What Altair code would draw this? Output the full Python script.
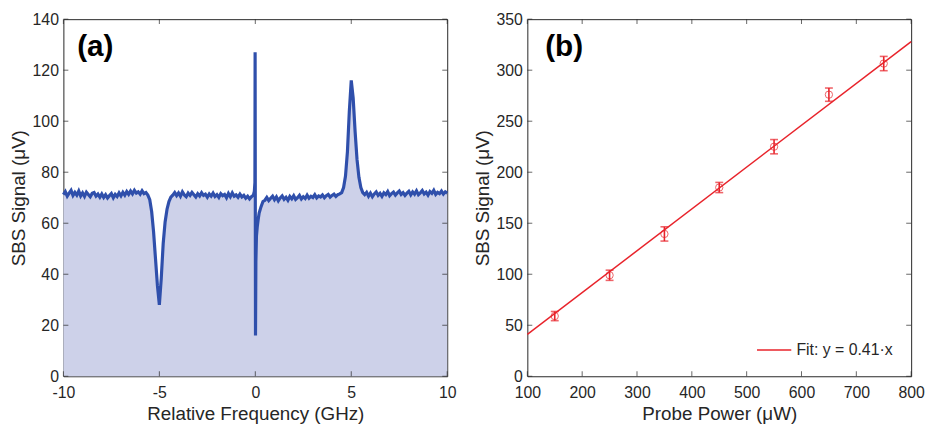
import altair as alt
import pandas as pd

# ---------------- Panel (a): SBS spectrum ----------------
def grid(start, n):
    return [round(start + 0.1 * i, 2) for i in range(n)]

freq_a = grid(-10.0, 44)
sig_a = [71.2, 72.4, 70.6, 71.8, 72.9, 70.9, 72.1, 71.0, 72.6, 70.7,
         71.9, 70.5, 72.2, 71.3, 70.4, 71.7, 72.0, 70.6, 71.4, 70.2,
         71.5, 70.1, 71.2, 69.9, 70.8, 71.6, 70.0, 71.3, 70.5, 71.9,
         70.7, 72.1, 71.0, 72.4, 71.3, 72.6, 71.5, 72.9, 71.8, 72.3,
         71.4, 72.7, 71.6, 72.0]
freq_dip = grid(-5.6, 14)
sig_dip = [71.0, 69.2, 64.5, 56.5, 46.0, 35.5, 28.0, 38.5, 52.0, 60.5,
           65.5, 68.5, 70.2, 71.0]
freq_c = grid(-4.2, 42)
sig_c = [72.0, 70.8, 71.9, 70.6, 72.3, 71.1, 70.4, 71.8, 70.9, 72.1,
         71.2, 70.3, 71.6, 70.7, 72.0, 70.9, 71.4, 70.2, 71.5, 70.6,
         71.8, 70.5, 71.2, 70.1, 71.6, 70.8, 71.3, 70.0, 71.7, 70.4,
         71.9, 70.6, 71.1, 70.2, 71.4, 70.3, 70.9, 69.8, 70.6, 69.5,
         70.4, 71.0]
freq_spike = [-0.05, -0.02, -0.01, 0.01, 0.03, 0.06, 0.1, 0.15, 0.2, 0.3, 0.4]
sig_spike = [72.5, 76.0, 127.0, 16.0, 45.0, 55.0, 58.5, 61.5, 64.0, 66.5, 68.5]
freq_d = grid(0.5, 39)
sig_d = [69.0, 70.1, 68.9, 69.8, 70.6, 69.2, 70.3, 68.8, 69.9, 70.7,
         69.4, 70.2, 69.0, 70.5, 69.6, 70.8, 69.3, 70.0, 70.9, 69.5,
         70.4, 69.7, 71.0, 69.8, 70.6, 70.1, 71.2, 69.9, 70.7, 70.3,
         71.1, 70.0, 70.8, 71.3, 70.2, 70.9, 71.4, 70.5, 71.2]
freq_peak = grid(4.4, 14)
sig_peak = [71.5, 72.0, 74.0, 78.5, 88.0, 104.0, 116.0, 109.0, 96.0, 85.0,
            78.0, 74.0, 72.0, 71.2]
freq_f = grid(5.8, 43)
sig_f = [72.1, 70.6, 71.8, 70.4, 71.5, 72.3, 70.9, 71.7, 70.5, 71.9,
         71.2, 72.4, 70.8, 71.6, 72.2, 71.0, 71.9, 72.6, 71.3, 72.0,
         70.9, 71.8, 72.5, 71.1, 72.3, 71.4, 72.7, 71.2, 71.9, 72.8,
         71.5, 72.2, 71.0, 72.4, 71.7, 72.9, 71.3, 72.1, 71.6, 72.6,
         71.4, 72.3, 71.8]

xticks_a = [-10, -5, 0, 5, 10]
yticks_a = [0, 20, 40, 60, 80, 100, 120, 140]

# ---------------- Panel (b): signal vs probe power ----------------
power = [150, 250, 350, 450, 550, 650, 750]
signal = [59, 99, 139.5, 185, 225, 276, 306.5]
err = [4.5, 5, 7, 5, 7, 6.5, 7]
fit_x = [100, 800]
fit_y = [41, 328]
fit_label = "Fit: y = 0.41·x"
xticks_b = [100, 200, 300, 400, 500, 600, 700, 800]
yticks_b = [0, 50, 100, 150, 200, 250, 300, 350]
panel_labels = ["(a)", "(b)"]

W, H = 388, 361
AX = "#262626"
FILL = "#cdd1e9"
BLUE = "#2f4fab"
RED = "#e8232b"

df_a = pd.DataFrame({
    "freq": freq_a + freq_dip + freq_c + freq_spike + freq_d + freq_peak + freq_f,
    "sig": sig_a + sig_dip + sig_c + sig_spike + sig_d + sig_peak + sig_f,
})
df_b = pd.DataFrame({"power": power, "signal": signal,
                     "lo": [s - e for s, e in zip(signal, err)],
                     "hi": [s + e for s, e in zip(signal, err)]})
df_fit = pd.DataFrame({"power": fit_x, "signal": fit_y, "label": [fit_label] * 2})


def inside_ticks(xfield, xvals, yfield, yvals):
    tx = pd.DataFrame({xfield: xvals})
    ty = pd.DataFrame({yfield: yvals})
    bottom = alt.Chart(tx).mark_tick(orient="vertical", size=5, thickness=1, color=AX).encode(
        x=alt.X(f"{xfield}:Q"), y=alt.value(H - 2.5))
    top = alt.Chart(tx).mark_tick(orient="vertical", size=5, thickness=1, color=AX).encode(
        x=alt.X(f"{xfield}:Q"), y=alt.value(2.5))
    left = alt.Chart(ty).mark_tick(orient="horizontal", size=5, thickness=1, color=AX).encode(
        y=alt.Y(f"{yfield}:Q"), x=alt.value(2.5))
    right = alt.Chart(ty).mark_tick(orient="horizontal", size=5, thickness=1, color=AX).encode(
        y=alt.Y(f"{yfield}:Q"), x=alt.value(W - 2.5))
    return [bottom, top, left, right]


def panel_label(text, xpos):
    return alt.Chart(pd.DataFrame({"t": [text]})).mark_text(
        fontSize=30, fontWeight="bold", align="left", baseline="middle", color="black",
        font="Liberation Sans").encode(text="t:N", x=alt.value(xpos), y=alt.value(28))


xa = alt.X("freq:Q", scale=alt.Scale(domain=[-10, 10], nice=False),
           axis=alt.Axis(values=xticks_a, title="Relative Frequency (GHz)",
                         labelExpr="replace(datum.label, '\u2212', '-')"))
ya = alt.Y("sig:Q", scale=alt.Scale(domain=[0, 140], nice=False),
           axis=alt.Axis(values=yticks_a, title="SBS Signal (μV)"))

area = alt.Chart(df_a).mark_area(color=FILL, opacity=1).encode(x=xa, y=ya)
line = alt.Chart(df_a).mark_line(color=BLUE, strokeWidth=3.2).encode(x=xa, y=ya)

panel_a = alt.layer(area, line, *inside_ticks("freq", xticks_a, "sig", yticks_a),
                    panel_label(panel_labels[0], 14)).properties(width=W, height=H)

xb = alt.X("power:Q", scale=alt.Scale(domain=[100, 800], nice=False),
           axis=alt.Axis(values=xticks_b, title="Probe Power (μW)"))
yb = alt.Y("signal:Q", scale=alt.Scale(domain=[0, 350], nice=False),
           axis=alt.Axis(values=yticks_b, title="SBS Signal (μV)"))

fit = alt.Chart(df_fit).mark_line(strokeWidth=1.5).encode(
    x=xb, y=yb,
    color=alt.Color("label:N", scale=alt.Scale(range=[RED]),
                    legend=alt.Legend(title=None, orient="bottom-right", symbolType="stroke",
                                      symbolSize=1200, symbolStrokeWidth=1.5, labelFontSize=16,
                                      labelColor=AX, offset=18, labelFont="Liberation Sans")))
bars = alt.Chart(df_b).mark_rule(color=RED, strokeWidth=1.6).encode(
    x=xb, y=alt.Y("lo:Q"), y2="hi:Q")
cap_lo = alt.Chart(df_b).mark_tick(orient="horizontal", size=8, thickness=1.6, color=RED).encode(
    x=xb, y=alt.Y("lo:Q"))
cap_hi = alt.Chart(df_b).mark_tick(orient="horizontal", size=8, thickness=1.6, color=RED).encode(
    x=xb, y=alt.Y("hi:Q"))
pts = alt.Chart(df_b).mark_point(shape="circle", filled=False, size=55, color=RED, opacity=0.7,
                                 strokeWidth=1).encode(x=xb, y=yb)

panel_b = alt.layer(fit, bars, cap_lo, cap_hi, pts, *inside_ticks("power", xticks_b, "signal", yticks_b),
                    panel_label(panel_labels[1], 18)).properties(width=W, height=H)

chart = alt.hconcat(panel_a, panel_b, spacing=15).resolve_scale(
    color="independent").resolve_legend(color="independent").configure_view(
    stroke=AX, strokeWidth=1
).configure_axis(
    ticks=False, domain=False, grid=False, labelFlush=False, labelOverlap=False,
    labelFont="Liberation Sans", titleFont="Liberation Sans",
    labelFontSize=16, titleFontSize=19, labelColor=AX, titleColor=AX,
    titleFontWeight="normal", labelPadding=5, titlePadding=4
).configure_axisX(labelPadding=8, titlePadding=5).properties(padding=0, background="white")

chart.save("out.html", embed_options={"renderer": "svg", "actions": False})
